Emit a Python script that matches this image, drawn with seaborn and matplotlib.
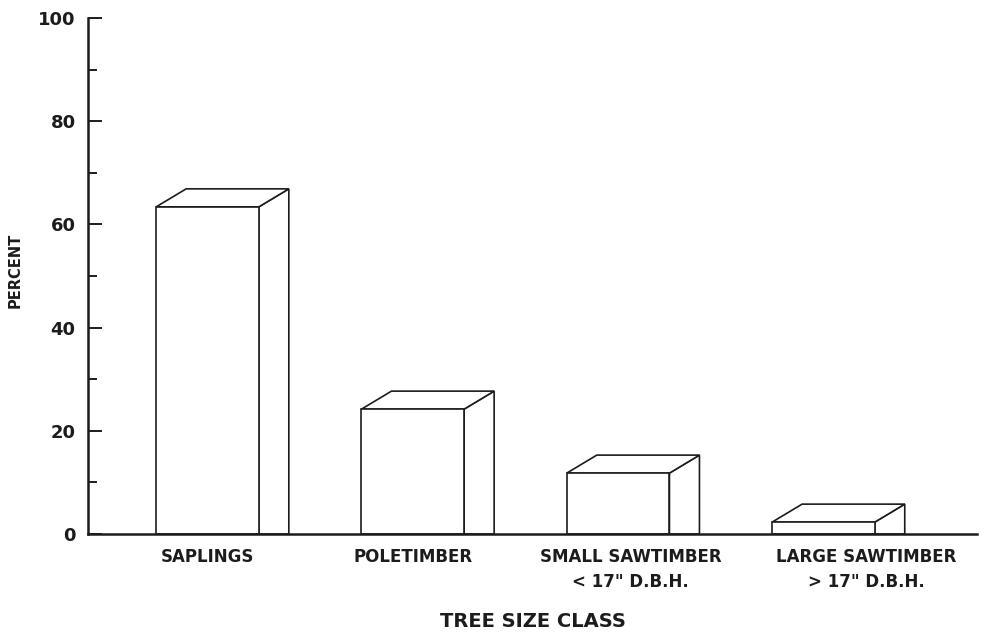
import matplotlib
matplotlib.use("Agg")
import matplotlib.pyplot as plt
import matplotlib.transforms as mtransforms
from matplotlib.patches import Polygon
import seaborn as sns
import pandas as pd

# ---- data ----
categories = ["SAPLINGS", "POLETIMBER", "SMALL SAWTIMBER", "LARGE SAWTIMBER"]
tick_labels = ["SAPLINGS", "POLETIMBER", "SMALL SAWTIMBER\n< 17\" D.B.H.",
               "LARGE SAWTIMBER\n> 17\" D.B.H."]
percent = [63.4, 24.2, 11.8, 2.3]
major_ticks = [0, 20, 40, 60, 80, 100]
minor_ticks = [10, 30, 50, 70, 90]

# ---- layout/style ----
label_shift_pt = [0, 0, 9, 31]   # horizontal shift of category labels
ink = "#1c1c1c"
depth_px = (30, 18)
xlim = (-0.582, 3.748)

sns.set_theme(style="white")
plt.rcParams["font.family"] = ["DejaVu Sans"]
plt.rcParams["font.weight"] = "bold"

fig = plt.figure(figsize=(9.84, 6.4), dpi=100)
ax = fig.add_axes([88 / 984, 106 / 640, 889 / 984, 516 / 640])

df = pd.DataFrame({"cls": categories, "pct": percent})
sns.barplot(data=df, x="cls", y="pct", color="white", saturation=1,
            edgecolor=ink, linewidth=1.2, width=0.5, ax=ax, zorder=3)

ax.set_xlim(*xlim)
ax.set_ylim(0, 100)

# 3-D faces derived from each seaborn bar
fig.canvas.draw()
bbox = ax.get_window_extent()
dx = depth_px[0] * (xlim[1] - xlim[0]) / bbox.width
dy = depth_px[1] * 100 / bbox.height

for p in list(ax.patches):
    x = p.get_x()
    w = p.get_width()
    h = p.get_height()
    side = Polygon([(x + w, 0), (x + w + dx, 0), (x + w + dx, h + dy), (x + w, h)],
                   closed=True, facecolor="white", edgecolor=ink, linewidth=1.2,
                   zorder=2, clip_on=False)
    top = Polygon([(x, h), (x + dx, h + dy), (x + w + dx, h + dy), (x + w, h)],
                  closed=True, facecolor="white", edgecolor=ink, linewidth=1.2,
                  zorder=2, clip_on=False)
    ax.add_patch(side)
    ax.add_patch(top)

# axes styling
for s in ["top", "right"]:
    ax.spines[s].set_visible(False)
for s in ["left", "bottom"]:
    ax.spines[s].set_linewidth(1.8)
    ax.spines[s].set_color(ink)
    ax.spines[s].set_zorder(5)

ax.set_yticks(major_ticks)
ax.set_yticks(minor_ticks, minor=True)
ax.set_yticklabels([str(t) for t in major_ticks])
ax.tick_params(axis="y", which="major", direction="in", length=10, width=1.4,
               color=ink, pad=9, labelsize=13, labelcolor=ink, left=True)
ax.tick_params(axis="y", which="minor", direction="in", length=6.5, width=1.4,
               color=ink, left=True)

ax.set_xticks(range(len(categories)))
ax.set_xticklabels(tick_labels, fontsize=12, fontweight="bold", color=ink,
                   linespacing=1.5, multialignment="center")
ax.tick_params(axis="x", length=0, pad=10)
for lab, sh in zip(ax.get_xticklabels(), label_shift_pt):
    lab.set_transform(lab.get_transform() +
                      mtransforms.ScaledTranslation(sh / 72, 0, fig.dpi_scale_trans))

ax.set_xlabel("TREE SIZE CLASS", fontsize=14, fontweight="bold", color=ink)
ax.xaxis.set_label_coords(0.5, -0.151)
ax.set_ylabel("")
fig.text(15 / 984, 1 - 270 / 640, "PERCENT", rotation=90, ha="center", va="center",
         fontsize=10.5, fontweight="bold", color=ink)

fig.savefig("out.png", dpi=100, facecolor="white")
